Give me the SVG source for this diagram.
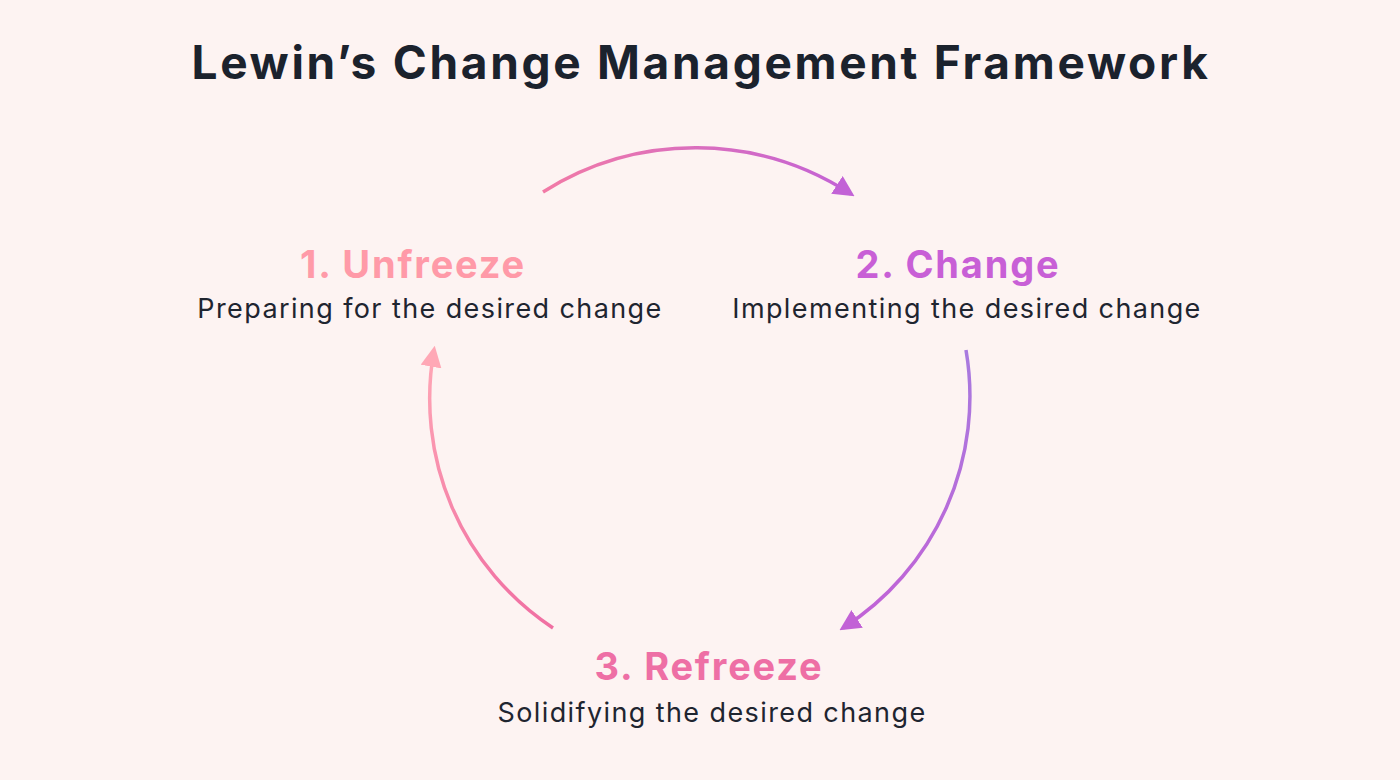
<svg xmlns="http://www.w3.org/2000/svg" width="1400" height="780" viewBox="0 0 1400 780">
<defs>
<style>
.title{font-family:Inter,"Noto Sans",sans-serif;font-weight:700;font-size:46px;fill:#1b222d;text-anchor:middle;letter-spacing:2.7px}
.h{font-family:Inter,"Noto Sans",sans-serif;font-weight:700;font-size:38px;text-anchor:middle;letter-spacing:1.8px}
.s{font-family:Inter,"Noto Sans",sans-serif;font-size:27px;fill:#1f2530;text-anchor:middle;letter-spacing:1.4px}
.arc{fill:none;stroke-width:3.5}
</style>
<linearGradient id="gTop" gradientUnits="userSpaceOnUse" x1="543" y1="0" x2="853" y2="0"><stop offset="0" stop-color="#F27AA6"/><stop offset="1" stop-color="#C262D6"/></linearGradient>
<linearGradient id="gRight" gradientUnits="userSpaceOnUse" x1="0" y1="350" x2="0" y2="630"><stop offset="0" stop-color="#A87ADF"/><stop offset="1" stop-color="#C262D6"/></linearGradient>
<linearGradient id="gLeft" gradientUnits="userSpaceOnUse" x1="0" y1="628" x2="0" y2="350"><stop offset="0" stop-color="#F06FA2"/><stop offset="1" stop-color="#FFA8B6"/></linearGradient>
<marker id="mP" viewBox="0 0 10 10" refX="8" refY="5" markerWidth="6" markerHeight="6" orient="auto" markerUnits="strokeWidth"><path d="M0,0 L10,5 L0,10 Z" fill="#C262D6"/></marker>
<marker id="mL" viewBox="0 0 10 10" refX="8" refY="5" markerWidth="6" markerHeight="6" orient="auto" markerUnits="strokeWidth"><path d="M0,0 L10,5 L0,10 Z" fill="#FFA8B6"/></marker>
</defs>
<rect width="1400" height="780" fill="#FDF3F2"/>
<text class="title" x="701" y="79">Lewin’s Change Management Framework</text>
<g id="connectors">
<path class="arc" stroke="url(#gTop)" d="M543,192 A285 285 0 0 1 851,194" marker-end="url(#mP)"/>
<path class="arc" stroke="url(#gRight)" d="M966,350 A275 275 0 0 1 843,628" marker-end="url(#mP)"/>
<path class="arc" stroke="url(#gLeft)" d="M553,628 A275 275 0 0 1 434,350" marker-end="url(#mL)"/>
</g>
<g id="unfreeze"><text class="h" x="413" y="278" fill="#FF9AA8">1. Unfreeze</text><text class="s" x="430" y="318">Preparing for the desired change</text></g>
<g id="change"><text class="h" x="958" y="278" fill="#C85FD6">2. Change</text><text class="s" x="967" y="318">Implementing the desired change</text></g>
<g id="refreeze"><text class="h" x="709" y="680" fill="#EE6FA5">3. Refreeze</text><text class="s" x="712" y="722">Solidifying the desired change</text></g>
</svg>
